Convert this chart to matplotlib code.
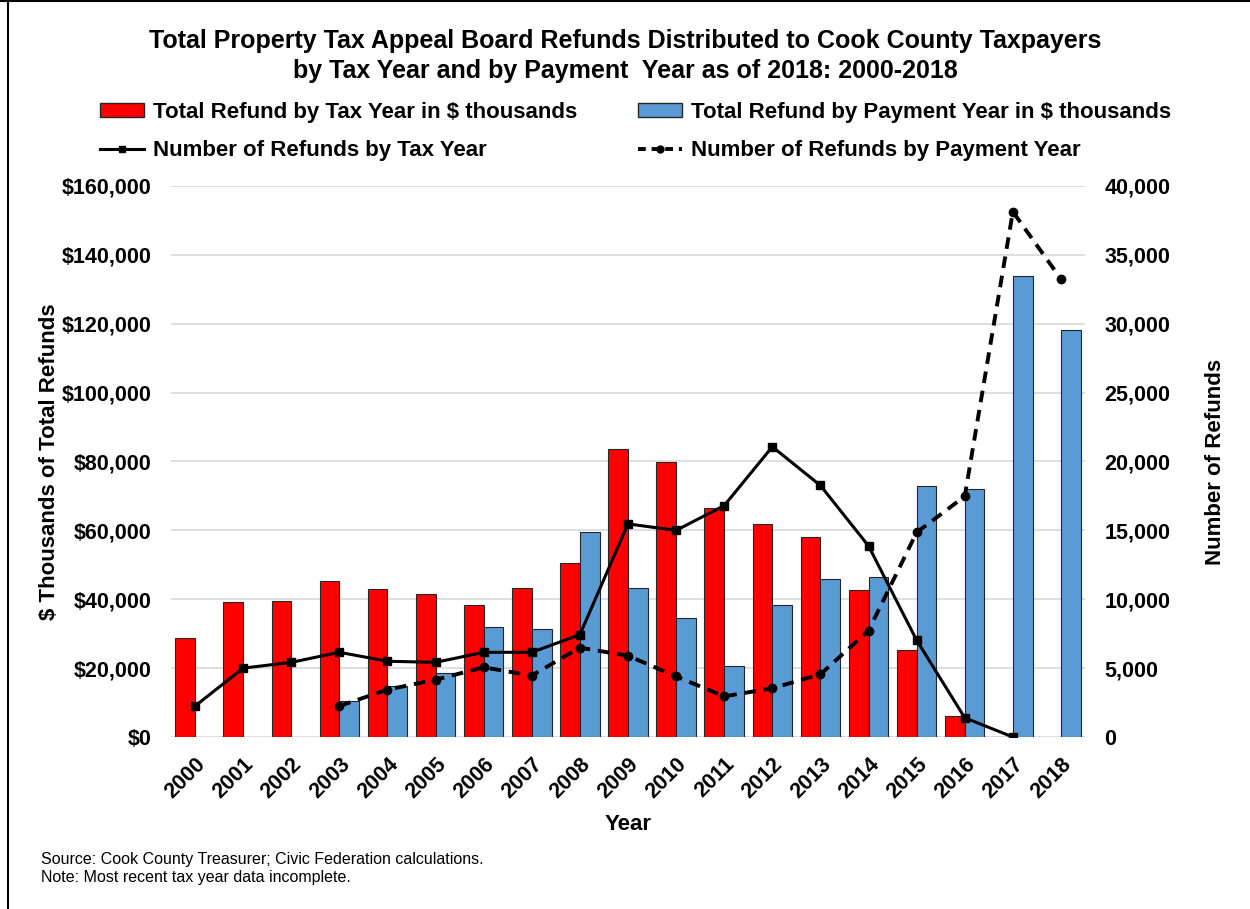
import numpy as np
import matplotlib.pyplot as plt
from matplotlib.lines import Line2D
from matplotlib.patches import Patch
from matplotlib.ticker import FuncFormatter

plt.rcParams['font.family'] = ['Liberation Sans', 'DejaVu Sans']

# --- Dados ---
years = [str(y) for y in range(2000, 2019)]

# Total Refund by Tax Year ($ thousands), 2000-2017
refund_tax_year = [28700, 39100, 39500, 45200, 43000, 41400, 38300, 43400, 50600,
                   83500, 79800, 66600, 61800, 58000, 42600, 25300, 6000, 0, np.nan]
# Total Refund by Payment Year ($ thousands), 2003-2018
refund_pay_year = [np.nan, np.nan, np.nan, 10500, 14900, 18500, 31800, 31300, 59600,
                   43400, 34500, 20700, 38200, 45900, 46400, 72900, 72100, 133900, 118100]
# Number of Refunds by Tax Year
count_tax_year = [2250, 5000, 5420, 6150, 5500, 5420, 6150, 6150, 7430,
                  15470, 15000, 16800, 21070, 18260, 13870, 7030, 1400, 0, np.nan]
# Number of Refunds by Payment Year
count_pay_year = [np.nan, np.nan, np.nan, 2250, 3440, 4160, 5060, 4460, 6490,
                  5900, 4400, 2950, 3540, 4550, 7720, 14850, 17470, 38130, 33250]

red = '#ff0000'
blue = '#5b9bd5'
fs = 15.5

fig = plt.figure(figsize=(12.5, 9.09), dpi=100)
ax = fig.add_axes([0.1368, 0.1892, 0.7312, 0.6062])
ax2 = ax.twinx()

x = np.arange(len(years))
w = 0.41
ax.bar(x - w / 2, refund_tax_year, w, color=red, edgecolor='#262626', linewidth=0.8, zorder=2)
ax.bar(x + w / 2, refund_pay_year, w, color=blue, edgecolor='#262626', linewidth=0.8, zorder=2)

ax2.plot(x, count_tax_year, color='black', lw=2.2, marker='s', markersize=6)
ax2.plot(x, count_pay_year, color='black', lw=2.8, ls=(0, (3, 2)), marker='o', markersize=6)

ax.set_xlim(-0.5, len(years) - 0.5)
ax.set_ylim(0, 160000)
ax2.set_ylim(0, 40000)
ax.set_yticks(np.arange(0, 160001, 20000))
ax2.set_yticks(np.arange(0, 40001, 5000))
ax.yaxis.set_major_formatter(FuncFormatter(lambda v, p: f'${v:,.0f}'))
ax2.yaxis.set_major_formatter(FuncFormatter(lambda v, p: f'{v:,.0f}'))

ax.grid(axis='y', color='#d9d9d9', lw=1.2, zorder=0)
ax.set_axisbelow(True)
for a in (ax, ax2):
    for s in a.spines.values():
        s.set_visible(False)
    a.tick_params(length=0, labelsize=fs)
    for lab in a.get_yticklabels():
        lab.set_fontweight('bold')
ax.tick_params(axis='y', pad=14)
ax2.tick_params(axis='y', pad=14)

ax.set_xticks(x)
ax.set_xticklabels(years, rotation=45, ha='right', va='top', rotation_mode='anchor',
                   fontsize=fs, fontweight='bold')
ax.tick_params(axis='x', pad=12)

ax.set_xlabel('Year', fontsize=16, fontweight='bold', labelpad=8)
ax.set_ylabel('$ Thousands of Total Refunds', fontsize=16, fontweight='bold', labelpad=1)
ax2.set_ylabel('Number of Refunds', fontsize=16, fontweight='bold', labelpad=25)

fig.text(0.5, 1 - 56 / 909, 'Total Property Tax Appeal Board Refunds Distributed to Cook County Taxpayers\n'
         'by Tax Year and by Payment  Year as of 2018: 2000-2018',
         ha='center', va='center', fontsize=18, fontweight='bold', linespacing=1.3)

# ordem em colunas: vermelho, linha cheia | azul, tracejada
handles = [Patch(facecolor=red, edgecolor='#262626'),
           Line2D([], [], color='black', lw=2.2, marker='s', markersize=5),
           Patch(facecolor=blue, edgecolor='#262626'),
           Line2D([], [], color='black', lw=2.8, ls=(0, (2, 1.5)), marker='o', markersize=5)]
labels = ['Total Refund by Tax Year in $ thousands',
          'Number of Refunds by Tax Year',
          'Total Refund by Payment Year in $ thousands',
          'Number of Refunds by Payment Year']
fig.legend(handles, labels, loc='upper left', bbox_to_anchor=(100 / 1250, 1 - 102 / 909), ncol=2,
           frameon=False, prop={'weight': 'bold', 'size': 16}, columnspacing=2.7,
           handlelength=2.0, handleheight=0.6, handletextpad=0.4, labelspacing=0.78,
           borderpad=0, borderaxespad=0)

fig.text(41 / 1250, 1 - 852 / 909, 'Source: Cook County Treasurer; Civic Federation calculations.\n'
         'Note: Most recent tax year data incomplete.', ha='left', va='top',
         fontsize=11.5, linespacing=1.25)

# cadre
fig.add_artist(Line2D([0.006, 0.006], [0, 1], color='black', lw=1.5))
fig.add_artist(Line2D([0, 1], [0.999, 0.999], color='black', lw=1.5))

fig.savefig('out.png', dpi=100)
